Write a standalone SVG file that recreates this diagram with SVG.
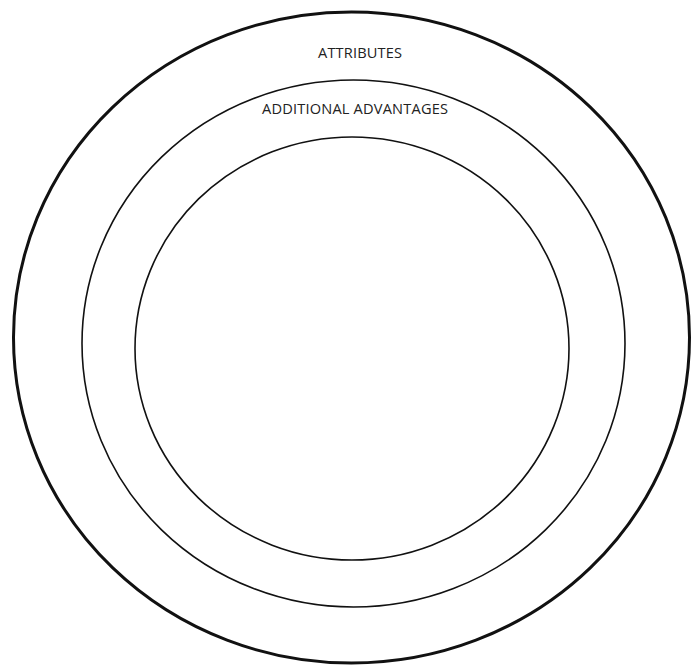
<svg xmlns="http://www.w3.org/2000/svg" width="691" height="668" viewBox="0 0 691 668">
<style>
.ring{fill:none;stroke:#111}
.lbl{font-family:"Open Sans","Liberation Sans",sans-serif;font-size:14.6px;fill:#222;text-anchor:middle}
</style>
<rect width="691" height="668" fill="#fff"/>
<g id="outer">
<ellipse class="ring" cx="351.5" cy="337.5" rx="338" ry="325.5" stroke-width="3"/>
<text class="lbl" x="360" y="58" textLength="84">ATTRIBUTES</text>
</g>
<g id="middle">
<ellipse class="ring" cx="353.5" cy="343.5" rx="271.5" ry="263.5" stroke-width="1.6"/>
<text class="lbl" x="355" y="114" textLength="186">ADDITIONAL ADVANTAGES</text>
</g>
<g id="inner">
<ellipse class="ring" cx="352" cy="348.5" rx="217" ry="211.5" stroke-width="1.6"/>
</g>
<g id="connectors"/>
</svg>
